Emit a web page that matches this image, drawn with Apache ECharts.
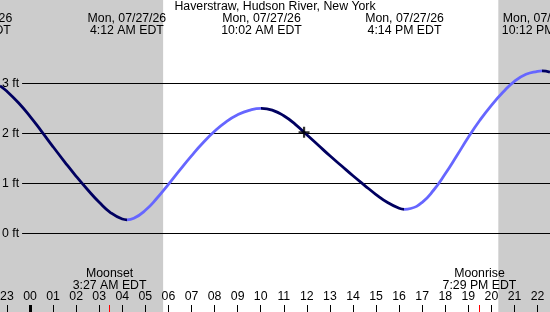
<!DOCTYPE html>
<html>
<head>
<meta charset="utf-8">
<script src="https://cdn.jsdelivr.net/npm/echarts@6/dist/echarts.min.js"></script>
<style>
  html, body { margin: 0; padding: 0; background: #fff; }
  #chart { width: 550px; height: 312px; }
</style>
</head>
<body>
<div id="chart"></div>
<script>
// hours are counted from midnight, Mon 07/27/26 (EDT)
const tideHours = [-1.3, -1, -0.5, 0, 0.5, 1, 1.5, 2, 2.5, 3, 3.5, 4, 4.2, 4.5, 5, 5.5, 6, 6.5, 7, 7.5, 8,
  8.5, 9, 9.5, 10.03, 10.5, 11, 11.5, 12, 12.5, 13, 13.5, 14, 14.5, 15, 15.5, 16, 16.23, 16.5, 17, 17.5,
  18, 18.5, 19, 19.5, 20, 20.5, 21, 21.5, 22, 22.2, 22.54];
const tideFeet = [2.95, 2.84, 2.61, 2.34, 2.04, 1.73, 1.43, 1.14, 0.87, 0.62, 0.41, 0.285, 0.27, 0.30, 0.46,
  0.70, 0.98, 1.27, 1.55, 1.81, 2.04, 2.23, 2.37, 2.46, 2.50, 2.465, 2.35, 2.18, 1.97, 1.76, 1.55, 1.35,
  1.15, 0.96, 0.775, 0.615, 0.50, 0.48, 0.496, 0.62, 0.866, 1.19, 1.55, 1.92, 2.26, 2.56, 2.82, 3.04,
  3.18, 3.24, 3.25, 3.22];

const extremeHours = [-2.43, 4.20, 10.033, 16.233, 22.20];
const extremeDates = ['Sun, 07/26/26', 'Mon, 07/27/26', 'Mon, 07/27/26', 'Mon, 07/27/26', 'Mon, 07/27/26'];
const extremeTimes = ['9:34 PM EDT', '4:12 AM EDT', '10:02 AM EDT', '4:14 PM EDT', '10:12 PM EDT'];

const moonHours = [3.45, 19.483];
const moonNames = ['Moonset', 'Moonrise'];
const moonTimes = ['3:27 AM EDT', '7:29 PM EDT'];

const nightStart = [-3.68, 20.30];
const nightEnd = [5.77, 29.77];

const hourTicks = [-1, 0, 1, 2, 3, 4, 5, 6, 7, 8, 9, 10, 11, 12, 13, 14, 15, 16, 17, 18, 19, 20, 21, 22];
const midnightTicks = [0];
const footTicks = [0, 1, 2, 3];

const nowHour = 11.88;
const nowFeet = 2.02;

const xMin = -30 / 23.07;
const xMax = 520 / 23.07;
const yMax = 233.3 / 50;
const yMin = yMax - 312 / 50;

const FONT = '"Liberation Sans", Arial, sans-serif';
const FS = 12.3;
const RISE = '#6666ff';
const FALL = '#000060';

const chart = echarts.init(document.getElementById('chart'));

// colour falls and rises between the extremes
const pieces = [{ lt: extremeHours[0], color: RISE }];
for (let i = 0; i < extremeHours.length - 1; i++) {
  pieces.push({ gte: extremeHours[i], lt: extremeHours[i + 1], color: i % 2 === 0 ? FALL : RISE });
}
pieces.push({ gte: extremeHours[extremeHours.length - 1], color: FALL });

const textStyle = (text) => ({
  text: text,
  textAlign: 'center',
  textVerticalAlign: 'middle',
  font: FS + 'px ' + FONT,
  fill: '#000'
});

const bareAxis = (ticks, color, width) => ({
  type: 'value',
  position: 'bottom',
  min: xMin,
  max: xMax,
  z: 1,
  axisLine: { show: false, onZero: false },
  splitLine: { show: false },
  axisLabel: { show: false },
  axisTick: { customValues: ticks, inside: true, length: 7, lineStyle: { color: color, width: width } }
});

const option = {
  animation: false,
  backgroundColor: '#fff',
  title: {
    text: 'Haverstraw, Hudson River, New York',
    left: 'center',
    top: 1,
    padding: 0,
    textStyle: { fontSize: FS, fontWeight: 'normal', color: '#000', fontFamily: FONT }
  },
  grid: { left: 0, right: 0, top: 0, bottom: 0, containLabel: false, outerBoundsMode: 'none' },
  xAxis: [
    {
      type: 'value',
      position: 'bottom',
      min: xMin,
      max: xMax,
      z: 1,
      axisLine: { show: false, onZero: false },
      splitLine: { show: false },
      axisTick: { customValues: hourTicks, inside: true, length: 7, lineStyle: { color: '#000', width: 1 } },
      axisLabel: {
        customValues: hourTicks,
        inside: true,
        margin: 9,
        color: '#000',
        fontSize: FS,
        fontFamily: FONT,
        formatter: v => String((Math.round(v) + 24) % 24).padStart(2, '0')
      }
    },
    bareAxis(midnightTicks, '#000', 3),
    bareAxis(moonHours, '#ff0000', 1)
  ],
  yAxis: {
    type: 'value',
    min: yMin,
    max: yMax,
    z: 1,
    axisLine: { show: false, onZero: false },
    axisTick: { show: false, customValues: footTicks },
    splitLine: { show: true, lineStyle: { color: '#000', width: 1 } },
    axisLabel: {
      customValues: footTicks,
      inside: true,
      margin: 0,
      padding: [1, 3, 1, 2],
      backgroundColor: '#cccccc',
      color: '#000',
      fontSize: FS,
      fontFamily: FONT,
      formatter: '{value} ft'
    }
  },
  visualMap: {
    show: false,
    type: 'piecewise',
    dimension: 0,
    seriesIndex: 1,
    pieces: pieces
  },
  series: [
    {
      // night bands
      type: 'custom',
      z: 0,
      clip: true,
      data: nightStart.map((s, i) => [s, nightEnd[i]]),
      renderItem: (params, api) => {
        const cs = params.coordSys;
        const x0 = api.coord([api.value(0), 0])[0];
        const x1 = api.coord([api.value(1), 0])[0];
        return {
          type: 'rect',
          shape: echarts.graphic.clipRectByRect(
            { x: x0, y: cs.y, width: x1 - x0, height: cs.height },
            { x: cs.x, y: cs.y, width: cs.width, height: cs.height }
          ),
          style: { fill: '#cccccc' }
        };
      }
    },
    {
      type: 'line',
      z: 2,
      smooth: 0.5,
      showSymbol: false,
      lineStyle: { width: 2.8 },
      data: tideHours.map((h, i) => [h, tideFeet[i]])
    },
    {
      // "now" marker
      type: 'scatter',
      z: 3,
      symbol: 'path://M0,4.4H11V6.6H0ZM4.4,0H6.6V11H4.4Z',
      symbolSize: 11,
      itemStyle: { color: '#000' },
      data: [[nowHour, nowFeet]]
    },
    {
      // high / low tide labels
      type: 'custom',
      z: 4,
      clip: false,
      data: extremeHours.map(h => [h, 0]),
      renderItem: (params, api) => {
        const x = api.coord([api.value(0), 0])[0];
        const i = params.dataIndex;
        return {
          type: 'group',
          children: [
            { type: 'text', x: x, y: 18.5, style: textStyle(extremeDates[i]) },
            { type: 'text', x: x, y: 30.5, style: textStyle(extremeTimes[i]) }
          ]
        };
      }
    },
    {
      // moon labels
      type: 'custom',
      z: 4,
      clip: false,
      data: moonHours.map(h => [h, 0]),
      renderItem: (params, api) => {
        const x = api.coord([api.value(0), 0])[0];
        const i = params.dataIndex;
        return {
          type: 'group',
          children: [
            { type: 'text', x: x, y: 273.5, style: textStyle(moonNames[i]) },
            { type: 'text', x: x, y: 285.5, style: textStyle(moonTimes[i]) }
          ]
        };
      }
    }
  ]
};

chart.setOption(option);
</script>
</body>
</html>
